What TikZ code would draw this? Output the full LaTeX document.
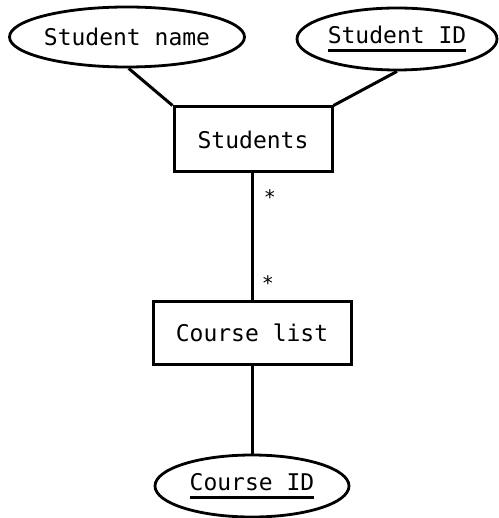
\documentclass[tikz,border=0pt]{standalone}
\usepackage{fontspec}
\setmonofont{DejaVu Sans Mono}
\usetikzlibrary{shapes.geometric}
\newcommand\ulkey[1]{\setbox0\hbox{#1}\rlap{\raisebox{-8.5pt}{\rule{\wd0}{3pt}}}\box0}
\tikzset{
  ent/.style={draw, line width=3pt, rectangle, inner sep=0pt, font=\ttfamily\fontsize{23}{26}\selectfont},
  attr/.style={draw, line width=2.8pt, ellipse, inner sep=0pt, font=\ttfamily\fontsize{23}{26}\selectfont},
  conn/.style={line width=3pt},
  mult/.style={inner sep=0pt, font=\ttfamily\fontsize{20}{22}\selectfont}
}
\begin{document}
\begin{tikzpicture}[x=1pt,y=-1pt]
\useasboundingbox (0,0) rectangle (498,518);
\node[attr, minimum width=230pt, minimum height=60pt] (sname) at (127,37) {Student name};
\node[attr, minimum width=200pt, minimum height=62pt] (sid) at (397,39) {\ulkey{Student ID}};
\node[ent, minimum width=158pt, minimum height=65pt] (students) at (253,139.5) {Students};
\node[ent, minimum width=198pt, minimum height=63pt] (clist) at (252,332.5) {Course list};
\node[attr, minimum width=194pt, minimum height=62pt] (cid) at (252,486) {\ulkey{Course ID}};
\draw[conn] (sname.-87) -- (students.north west);
\draw[conn] (sid.south) -- (students.north east);
\draw[conn] (clist.north |- students.south) -- (clist.north);
\draw[conn] (clist.south) -- (cid.north);
\node[mult] (m1) at (270,197) {*};
\node[mult] (m2) at (268,283) {*};
\end{tikzpicture}
\end{document}
